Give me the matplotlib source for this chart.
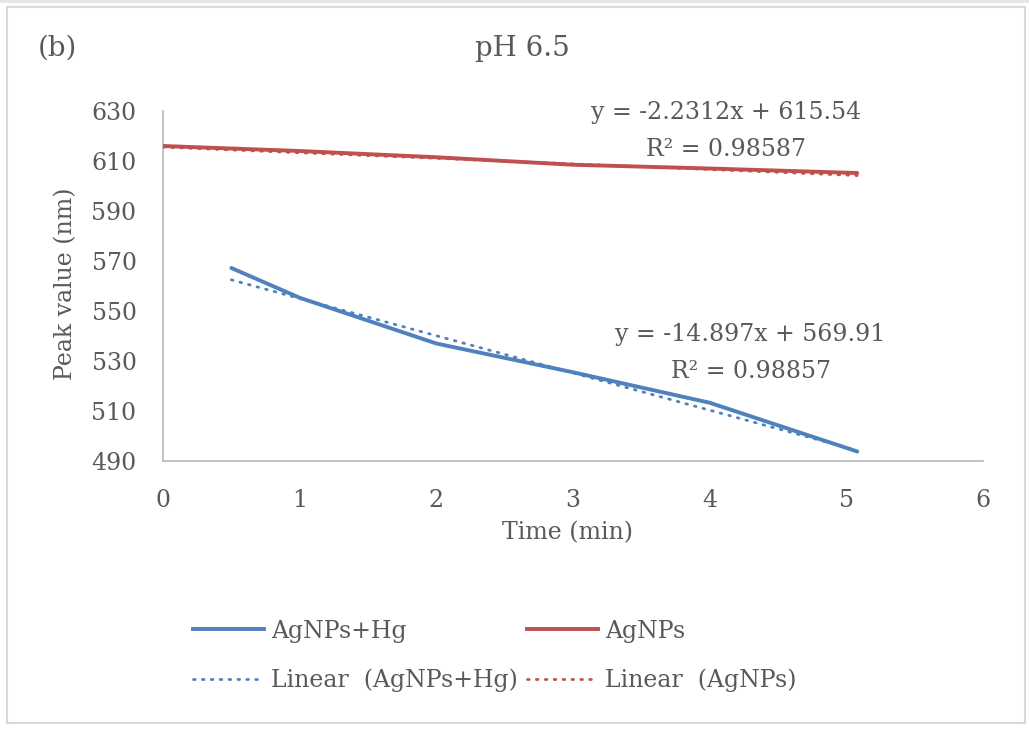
import matplotlib
matplotlib.use("Agg")
import matplotlib.pyplot as plt
from matplotlib.patches import Rectangle
from matplotlib.lines import Line2D
import numpy as np

plt.rcParams['font.family'] = ['DejaVu Serif']

# peak position over time, with and without Hg
time_hg = [0.5, 1.0, 2.0, 3.0, 4.0, 5.08]
peak_hg = [567.2, 555.3, 537.0, 525.5, 513.3, 493.8]

time_ag = [0.0, 1.0, 2.0, 3.0, 4.0, 5.08]
peak_ag = [616.0, 614.0, 611.5, 608.5, 607.0, 605.2]

# linear trend coefficients (slope, intercept, R^2)
fit_hg = (-14.897, 569.91, 0.98857)
fit_ag = (-2.2312, 615.54, 0.98587)

blue = '#4F81BD'
red = '#C0504D'
txt = '#595959'
grey = '#BFBFBF'
fs = 17

fig = plt.figure(figsize=(10.29, 7.29), dpi=100)
W, H = 1029, 729
ax = fig.add_axes([163 / W, 1 - 461 / H, 820 / W, 350 / H])

ax.plot(time_hg, peak_hg, color=blue, lw=2.8, solid_capstyle='round', zorder=3)
ax.plot(time_ag, peak_ag, color=red, lw=2.8, solid_capstyle='round', zorder=3)

dots = (0, (0.6, 2.6))
for t, (m, b, r2), c in [(time_hg, fit_hg, blue), (time_ag, fit_ag, red)]:
    xs = np.array([t[0], t[-1]])
    ax.plot(xs, m * xs + b, color=c, lw=2.0, linestyle=dots,
            dash_capstyle='round', zorder=4)

ax.set_xlim(0, 6)
ax.set_ylim(490, 630)
ax.set_xticks(range(0, 7))
ax.set_yticks(range(490, 631, 20))
ax.tick_params(length=0, labelsize=fs, colors=txt)
ax.tick_params(axis='y', pad=19)
ax.tick_params(axis='x', pad=20)
for s in ['top', 'right']:
    ax.spines[s].set_visible(False)
for s in ['left', 'bottom']:
    ax.spines[s].set_color(grey)
    ax.spines[s].set_linewidth(1.3)

# trendline equations
ax.text(4.12, 629.6, 'y = %.4fx + %.2f' % (fit_ag[0], fit_ag[1]), ha='center', va='center',
        fontsize=fs, color=txt)
ax.text(4.12, 614.4, 'R² = %.5f' % fit_ag[2], ha='center', va='center',
        fontsize=fs, color=txt)
ax.text(4.3, 540.4, 'y = %.3fx + %.2f' % (fit_hg[0], fit_hg[1]), ha='center', va='center',
        fontsize=fs, color=txt)
ax.text(4.3, 525.6, 'R² = %.5f' % fit_hg[2], ha='center', va='center',
        fontsize=fs, color=txt)

fig.text(57 / W, 1 - 48 / H, '(b)', ha='center', va='center', fontsize=20, color=txt)
fig.text(522 / W, 1 - 48 / H, 'pH 6.5', ha='center', va='center', fontsize=20, color=txt)
fig.text(66 / W, 1 - 284 / H, 'Peak value (nm)', rotation=90, ha='center', va='center',
         fontsize=fs, color=txt)
fig.text(568 / W, 1 - 533 / H, 'Time (min)', ha='center', va='center', fontsize=fs, color=txt)

handles = [
    Line2D([], [], color=blue, lw=2.8),
    Line2D([], [], color=blue, lw=2.0, linestyle=dots, dash_capstyle='round'),
    Line2D([], [], color=red, lw=2.8),
    Line2D([], [], color=red, lw=2.0, linestyle=dots, dash_capstyle='round'),
]
labels = ['AgNPs+Hg', 'Linear  (AgNPs+Hg)', 'AgNPs', 'Linear  (AgNPs)']
leg = fig.legend(handles, labels, ncol=2, loc='center', bbox_to_anchor=(495 / W, 1 - 656 / H),
                 frameon=False, fontsize=fs, handlelength=3.0, handletextpad=0.3,
                 columnspacing=0.4, labelspacing=1.1)
for t in leg.get_texts():
    t.set_color(txt)

# chart frame
fig.patches.append(Rectangle((7 / W, 6 / H), 1018 / W, 716 / H, transform=fig.transFigure,
                             fill=False, edgecolor='#D9D9D9', lw=1.5))
fig.patches.append(Rectangle((0, 1 - 3 / H), 1, 3 / H, transform=fig.transFigure,
                             color='#E6E6E6', lw=0))

fig.savefig('out.png', dpi=100, facecolor='white')
